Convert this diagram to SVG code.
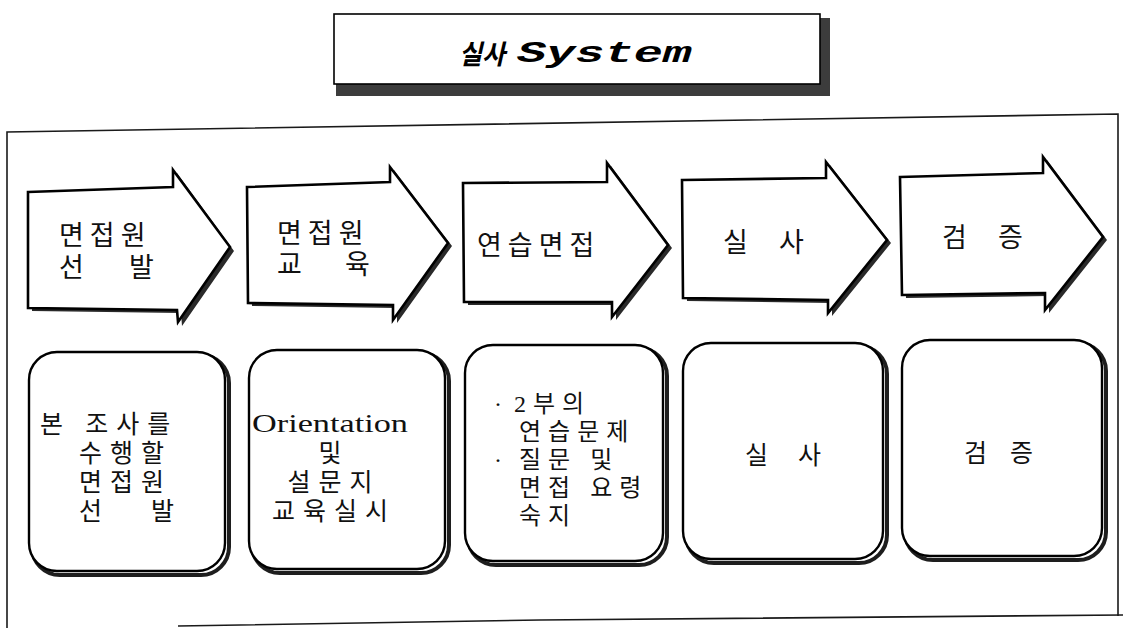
<svg xmlns="http://www.w3.org/2000/svg" width="1123" height="628" viewBox="0 0 1123 628">
<style>
.frame{fill:none;stroke:#1a1a1a;stroke-width:1.6}
.arr{fill:#fff;stroke:#000;stroke-width:2.6;stroke-linejoin:miter}
.arrsh{fill:#2a2a2a}
.box{fill:#fff;stroke:#000;stroke-width:2.4}
.boxsh{fill:none;stroke:#1e1e1e;stroke-width:4}
.kt{font-family:"Liberation Serif","Noto Sans CJK KR",serif;font-size:27px;fill:#111;letter-spacing:6px}
.bt{font-family:"Liberation Serif","Noto Sans CJK KR",serif;font-size:25px;fill:#111;letter-spacing:8px}
.bt3{font-family:"Liberation Serif","Noto Sans CJK KR",serif;font-size:24px;fill:#111;letter-spacing:7px}
</style>
<rect width="1123" height="628" fill="#fff"/>

<g id="title">
  <rect x="336" y="18" width="494" height="78" fill="#3c3c3c"/>
  <rect x="334" y="14" width="486" height="70" fill="#fff" stroke="#000" stroke-width="1.6"/>
  <text x="459" y="64" textLength="46" lengthAdjust="spacingAndGlyphs" font-family="Noto Sans CJK KR, sans-serif" font-weight="bold" font-style="italic" font-size="27" fill="#000">실사</text>
  <text x="517" y="62" textLength="175" lengthAdjust="spacingAndGlyphs" font-family="Liberation Mono, monospace" font-weight="bold" font-style="italic" font-size="29" fill="#000">System</text>
</g>

<g id="frame">
  <path class="frame" d="M7,628 L7,132 L1118,114 L1118,616"/>
  <path class="frame" d="M178,626 L540,620 L1123,615"/>
</g>

<g id="step1">
  <polygon class="arrsh" points="32,195 177,190 177,173 234,251 182,326 181,313 32,311"/>
  <polygon class="arr" points="28,192 173,187 173,170 230,247 178,322 177,310 28,308"/>
  <text class="kt"><tspan x="59" y="245">면접원</tspan><tspan x="59" y="277">선</tspan><tspan x="129" y="277">발</tspan></text>
</g>

<g id="step2">
  <polygon class="arrsh" points="251,190 394,185 394,170 452,246 397,323 397,308 252,306"/>
  <polygon class="arr" points="247,187 390,182 390,167 448,243 393,320 393,305 248,303"/>
  <text class="kt"><tspan x="277" y="243">면접원</tspan><tspan x="277" y="274">교</tspan><tspan x="345" y="274">육</tspan></text>
</g>

<g id="step3">
  <polygon class="arrsh" points="467,186 611,185 611,166 672,248 616,320 616,305 468,305"/>
  <polygon class="arr" points="463,183 607,182 607,163 668,245 612,317 612,302 464,302"/>
  <text class="kt" x="477" y="255" letter-spacing="7">연습면접</text>
</g>

<g id="step4">
  <polygon class="arrsh" points="686,183 830,181 830,165 891,243 832,316 832,303 687,301"/>
  <polygon class="arr" points="682,180 826,178 826,162 887,240 828,313 828,300 683,298"/>
  <text class="kt" y="252"><tspan x="723">실</tspan><tspan x="779">사</tspan></text>
</g>

<g id="step5">
  <polygon class="arrsh" points="904,180 1047,176 1047,160 1107,240 1049,313 1049,296 906,298"/>
  <polygon class="arr" points="900,177 1043,173 1043,157 1103,237 1045,310 1045,293 902,295"/>
  <text class="kt" y="247"><tspan x="942">검</tspan><tspan x="998">증</tspan></text>
</g>

<g id="box1">
  <rect class="boxsh" x="32" y="355" width="197" height="220" rx="28"/>
  <rect class="box" x="29" y="352" width="196" height="219" rx="28"/>
  <text class="bt"><tspan x="40" y="433">본 조사를</tspan><tspan x="79" y="462">수행할</tspan><tspan x="79" y="491">면접원</tspan><tspan x="79" y="520">선</tspan><tspan x="151" y="520">발</tspan></text>
</g>

<g id="box2">
  <rect class="boxsh" x="252" y="353" width="197" height="220" rx="28"/>
  <rect class="box" x="249" y="350" width="196" height="219" rx="28"/>
  <text x="252" y="432" textLength="156" lengthAdjust="spacingAndGlyphs" font-family="Liberation Serif, serif" font-size="25" fill="#111">Orientation</text>
  <text class="bt" text-anchor="middle"><tspan x="330" y="462" letter-spacing="0">및</tspan><tspan x="334" y="491">설문지</tspan><tspan x="334" y="520">교육실시</tspan></text>
</g>

<g id="box3">
  <rect class="boxsh" x="468" y="348" width="199" height="217" rx="28"/>
  <rect class="box" x="465" y="345" width="198" height="216" rx="28"/>
  <text class="bt3"><tspan x="494" y="412" letter-spacing="0">·</tspan><tspan x="514" y="412">2부의</tspan><tspan x="519" y="440">연습문제</tspan><tspan x="494" y="468" letter-spacing="0">·</tspan><tspan x="519" y="468">질문 및</tspan><tspan x="519" y="496">면접 요령</tspan><tspan x="519" y="524">숙지</tspan></text>
</g>

<g id="box4">
  <rect class="boxsh" x="686" y="346" width="201" height="217" rx="28"/>
  <rect class="box" x="683" y="343" width="200" height="216" rx="28"/>
  <text class="bt" y="464"><tspan x="745">실</tspan><tspan x="798">사</tspan></text>
</g>

<g id="box5">
  <rect class="boxsh" x="905" y="343" width="201" height="217" rx="28"/>
  <rect class="box" x="902" y="340" width="200" height="216" rx="28"/>
  <text class="bt" y="462"><tspan x="964">검</tspan><tspan x="1010">증</tspan></text>
</g>

<g id="connectors"></g>
</svg>
